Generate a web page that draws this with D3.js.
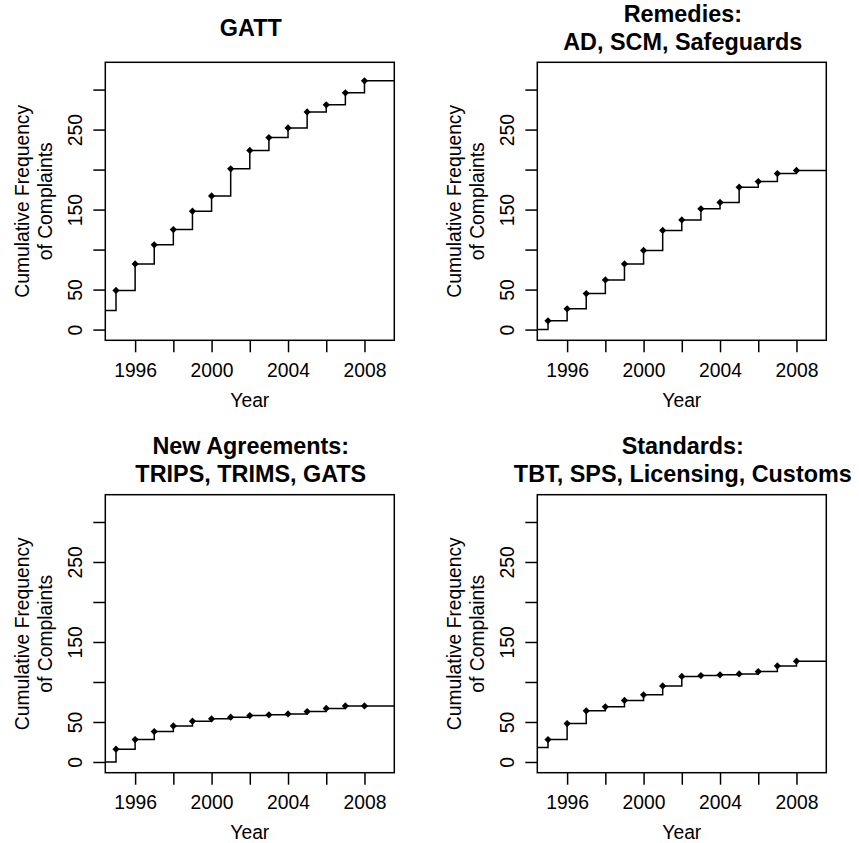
<!DOCTYPE html>
<html>
<head>
<meta charset="utf-8">
<script src="https://cdn.jsdelivr.net/npm/d3@7"></script>
<style>
  body { margin: 0; background: #fff; }
  svg text { font-family: "Liberation Sans", Arial, Helvetica, sans-serif; fill: #000; }
</style>
</head>
<body>
<div id="chart"></div>
<script>
// data
const years = [1995, 1996, 1997, 1998, 1999, 2000, 2001, 2002, 2003, 2004, 2005, 2006, 2007, 2008];

const gatt      = [49, 82, 106, 125, 148, 167, 201, 224, 240, 252, 272, 281, 296, 311];
const remedies  = [11, 26, 45, 62, 82, 99, 124, 137, 151, 159, 178, 185, 195, 199];
const newAgr    = [16, 28, 38, 45, 51, 54, 56, 58, 59, 60, 63, 67, 70, 70];
const standards = [28, 48, 64, 69, 77, 84, 95, 107, 108, 109, 110, 113, 120, 126];

// value before the first knot
const startValues = [24, 0, 0, 18];

const titles = [
  ["GATT"],
  ["Remedies:", "AD, SCM, Safeguards"],
  ["New Agreements:", "TRIPS, TRIMS, GATS"],
  ["Standards:", "TBT, SPS, Licensing, Customs"]
];
const series = [gatt, remedies, newAgr, standards];

const xTicks = [1996, 1998, 2000, 2002, 2004, 2006, 2008];
const xLabels = [1996, 2000, 2004, 2008];
const yTicks = [0, 50, 100, 150, 200, 250, 300];
const yLabels = [0, 50, 150, 250];

const W = 859, H = 843;
const boxW = 289, boxH = 278;
const origins = [[105.3, 62.3], [537.3, 62.3], [105.3, 494.7], [537.3, 494.7]];

const svg = d3.select("#chart")
  .append("svg")
  .attr("width", W)
  .attr("height", H);

// R style limits: xlim 1995-2009, ylim 0-322, plus 4% each side
const x = d3.scaleLinear()
  .domain([1995 - 0.56, 2009 + 0.56])
  .range([0, boxW]);

const y = d3.scaleLinear()
  .domain([-13.4, 334.1])
  .range([boxH, 0]);

const step = d3.line()
  .curve(d3.curveStepAfter)
  .x(d => x(d[0]))
  .y(d => y(d[1]));

// small filled diamond, like pch 18
const diamond = d3.symbol().type(d3.symbolSquare).size(26);

function panel(i) {
  const vals = series[i];
  const g = svg.append("g")
    .attr("transform", "translate(" + origins[i][0] + "," + origins[i][1] + ")");

  // x axis
  g.append("g")
    .attr("transform", "translate(0," + boxH + ")")
    .call(d3.axisBottom(x)
      .tickValues(xTicks)
      .tickSize(12)
      .tickFormat(d => xLabels.includes(d) ? d : ""))
    .call(a => a.select(".domain").remove())
    .call(a => a.selectAll("line").attr("stroke", "#000").attr("stroke-width", 1.5))
    .call(a => a.selectAll("text")
      .attr("y", 36.7)
      .attr("dy", 0)
      .attr("font-size", 19.3)
      .attr("font-family", null));

  // y axis
  g.append("g")
    .call(d3.axisLeft(y)
      .tickValues(yTicks)
      .tickSize(12)
      .tickFormat(d => yLabels.includes(d) ? d : ""))
    .call(a => a.select(".domain").remove())
    .call(a => a.selectAll("line").attr("stroke", "#000").attr("stroke-width", 1.5))
    .call(a => a.selectAll("text")
      .attr("x", 0)
      .attr("dy", 0)
      .attr("text-anchor", "middle")
      .attr("transform", "translate(-23.6,0) rotate(-90)")
      .attr("font-size", 19.3)
      .attr("font-family", null));

  // the step line
  const pts = [[x.domain()[0], startValues[i]]]
    .concat(years.map((yr, j) => [yr, vals[j]]))
    .concat([[x.domain()[1], vals[vals.length - 1]]]);

  g.append("path")
    .datum(pts)
    .attr("fill", "none")
    .attr("stroke", "#000")
    .attr("stroke-width", 1.5)
    .attr("d", step);

  g.append("g")
    .selectAll("path")
    .data(years)
    .enter()
    .append("path")
    .attr("d", diamond)
    .attr("transform", (d, j) => "translate(" + x(d) + "," + y(vals[j]) + ") rotate(45)")
    .attr("fill", "#000");

  // box
  g.append("rect")
    .attr("width", boxW)
    .attr("height", boxH)
    .attr("fill", "none")
    .attr("stroke", "#000")
    .attr("stroke-width", 1.5);

  // title, centred on the same line whatever the line count
  const lines = titles[i];
  const lh = 28.3;
  lines.forEach((t, k) => {
    g.append("text")
      .attr("x", boxW / 2 + 1)
      .attr("y", -26.5 + (k - (lines.length - 1) / 2) * lh)
      .attr("text-anchor", "middle")
      .attr("font-size", 23.4)
      .attr("font-weight", "bold")
      .text(t);
  });

  // axis titles
  g.append("text")
    .attr("x", boxW / 2)
    .attr("y", boxH + 66.7)
    .attr("text-anchor", "middle")
    .attr("font-size", 19.3)
    .text("Year");

  ["Cumulative Frequency", "of Complaints"].forEach((t, k) => {
    g.append("text")
      .attr("transform", "translate(" + (k === 0 ? -76 : -53.8) + "," + (boxH / 2) + ") rotate(-90)")
      .attr("text-anchor", "middle")
      .attr("font-size", 19.3)
      .text(t);
  });
}

for (let i = 0; i < 4; i++) panel(i);
</script>
</body>
</html>
